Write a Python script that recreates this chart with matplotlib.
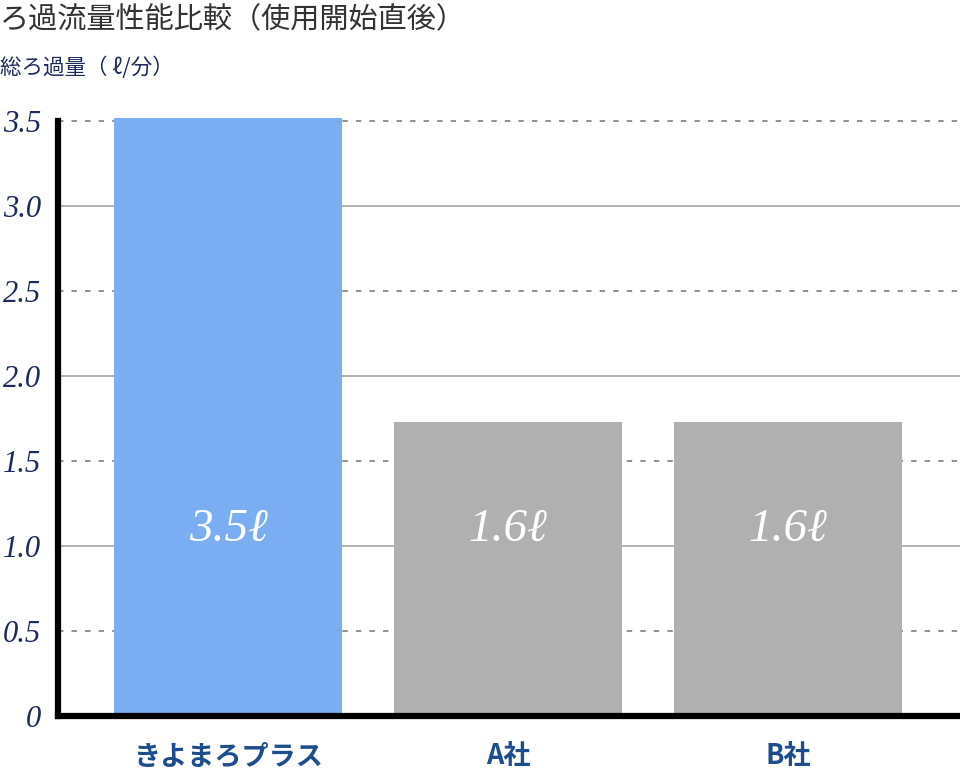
import matplotlib
matplotlib.use("Agg")
import matplotlib.pyplot as plt

# Chart data
products = ["きよまろプラス", "A社", "B社"]
bar_heights = [3.52, 1.73, 1.73]
bar_labels = ["3.5ℓ", "1.6ℓ", "1.6ℓ"]
bar_colors = ["#7aadf2", "#b0b0b0", "#b0b0b0"]
y_ticks = [0, 0.5, 1.0, 1.5, 2.0, 2.5, 3.0, 3.5]
y_tick_labels = ["0", "0.5", "1.0", "1.5", "2.0", "2.5", "3.0", "3.5"]

jp = ["Noto Sans CJK JP", "DejaVu Sans"]
serif = ["Liberation Serif", "DejaVu Serif"]
navy = "#1c2b5c"

fig = plt.figure(figsize=(9.6, 7.8), dpi=100)
ax = fig.add_axes([58 / 960, 64 / 780, (960 - 58) / 960, (716 - 118) / 780])

x = range(len(products))
ax.bar(x, bar_heights, width=228 / 280, color=bar_colors, zorder=2)

ax.set_xlim(-170 / 280, 2 + 172 / 280)
ax.set_ylim(0, 3.52)

# grid: dashed at half steps, solid at whole numbers
for v in y_ticks[1:]:
    if v % 1:
        ax.axhline(v, color="#888888", lw=1.3, ls=(0, (3, 4.5)), zorder=1)
    else:
        ax.axhline(v, color="#ababab", lw=1.3, zorder=1)

for s in ["top", "right"]:
    ax.spines[s].set_visible(False)
ax.spines["left"].set_linewidth(4.5)
ax.spines["bottom"].set_linewidth(4.5)
ax.spines["left"].set_bounds(0, 3.5)
ax.spines["left"].set_zorder(3)
ax.spines["bottom"].set_zorder(3)

ax.set_yticks(y_ticks)
ax.set_yticklabels(y_tick_labels, family=serif, style="italic", fontsize=22, color=navy)
ax.tick_params(axis="y", length=0, pad=12)

ax.set_xticks(list(x))
ax.set_xticklabels(products, family=jp, fontsize=19.5, color="#1d4d8f", fontweight="bold")
ax.tick_params(axis="x", length=0, pad=19)

for i, lab in enumerate(bar_labels):
    ax.text(i, 1.1, lab, ha="center", va="center", color="white",
            family=serif, style="italic", fontsize=34, zorder=4)

fig.text(0, 1 - 20 / 780, "ろ過流量性能比較（使用開始直後）", family=jp,
         fontsize=21, color="#333333", ha="left", va="center")
fig.text(0, 1 - 68 / 780, "総ろ過量（ ℓ/分）", family=jp,
         fontsize=15.5, color=navy, ha="left", va="center")

fig.savefig("out.png", dpi=100)
